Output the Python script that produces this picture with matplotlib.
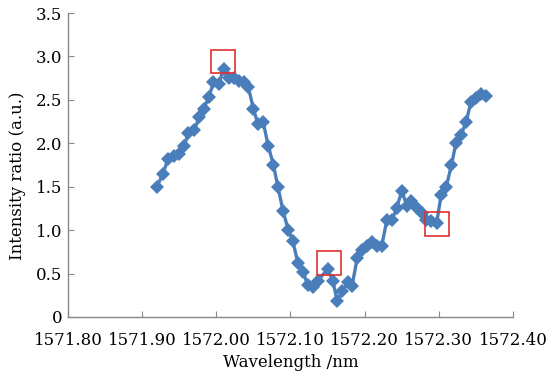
import matplotlib
matplotlib.use("Agg")
import matplotlib.pyplot as plt
from matplotlib.patches import Rectangle

wavelength = [1571.920, 1571.928, 1571.935, 1571.943, 1571.950, 1571.957, 1571.962, 1571.970,
              1571.977, 1571.983, 1571.990, 1571.996, 1572.003, 1572.010, 1572.017, 1572.024,
              1572.030, 1572.037, 1572.043, 1572.050, 1572.056, 1572.063, 1572.070, 1572.077,
              1572.083, 1572.090, 1572.097, 1572.103, 1572.110, 1572.117, 1572.123, 1572.130,
              1572.137, 1572.150, 1572.157, 1572.163, 1572.170, 1572.177, 1572.183, 1572.190,
              1572.197, 1572.203, 1572.210, 1572.217, 1572.223, 1572.230, 1572.237, 1572.243,
              1572.250, 1572.257, 1572.263, 1572.270, 1572.277, 1572.283, 1572.290, 1572.297,
              1572.303, 1572.310, 1572.317, 1572.323, 1572.330, 1572.337, 1572.343, 1572.350,
              1572.357, 1572.363]
intensity = [1.50, 1.65, 1.82, 1.85, 1.88, 1.97, 2.12, 2.15,
             2.30, 2.40, 2.53, 2.70, 2.68, 2.86, 2.75, 2.75,
             2.72, 2.70, 2.65, 2.40, 2.22, 2.25, 1.97, 1.75,
             1.50, 1.22, 1.00, 0.88, 0.62, 0.52, 0.37, 0.35,
             0.42, 0.55, 0.42, 0.18, 0.30, 0.40, 0.36, 0.68,
             0.77, 0.82, 0.86, 0.82, 0.82, 1.12, 1.12, 1.25,
             1.45, 1.28, 1.33, 1.26, 1.20, 1.12, 1.10, 1.08,
             1.40, 1.50, 1.75, 2.00, 2.10, 2.25, 2.47, 2.52,
             2.57, 2.55]

# highlighted regions: (center wavelength, center intensity)
box_centers_x = [1572.009, 1572.152, 1572.298]
box_centers_y = [2.94, 0.62, 1.07]
box_w = 0.032
box_h = 0.27

xticks = [1571.80, 1571.90, 1572.00, 1572.10, 1572.20, 1572.30, 1572.40]
yticks = [0, 0.5, 1.0, 1.5, 2.0, 2.5, 3.0, 3.5]
ytick_labels = ["0", "0.5", "1.0", "1.5", "2.0", "2.5", "3.0", "3.5"]

plt.rcParams['font.family'] = ['DejaVu Serif']

fig = plt.figure(figsize=(5.46, 3.78), dpi=100)
ax = fig.add_axes([0.1245, 0.1614, 0.8151, 0.8042])

blue = '#4A7EBB'
ax.plot(wavelength, intensity, color=blue, lw=2.4, marker='D', ms=7.5,
        markeredgewidth=0, zorder=3)

for cx, cy in zip(box_centers_x, box_centers_y):
    ax.add_patch(Rectangle((cx - box_w / 2, cy - box_h / 2), box_w, box_h,
                           fill=False, edgecolor='#E03030', lw=1.2, zorder=4))

ax.set_xlim(1571.80, 1572.40)
ax.set_ylim(0, 3.5)
ax.set_xticks(xticks)
ax.set_xticklabels([f"{v:.2f}" for v in xticks])
ax.set_yticks(yticks)
ax.set_yticklabels(ytick_labels)

for s in ['top', 'right']:
    ax.spines[s].set_visible(False)
for s in ['left', 'bottom']:
    ax.spines[s].set_color('#888888')
    ax.spines[s].set_linewidth(1.0)

ax.tick_params(direction='in', length=4, color='#888888', labelsize=12)
ax.tick_params(axis='x', pad=11)
ax.tick_params(axis='y', pad=4)
ax.set_xlabel("Wavelength /nm", fontsize=12)
ax.set_ylabel("Intensity ratio (a.u.)", fontsize=12)
ax.xaxis.set_label_coords(0.5, -0.122)
ax.yaxis.set_label_coords(-0.094, 0.464)

fig.savefig("out.png", dpi=100)
